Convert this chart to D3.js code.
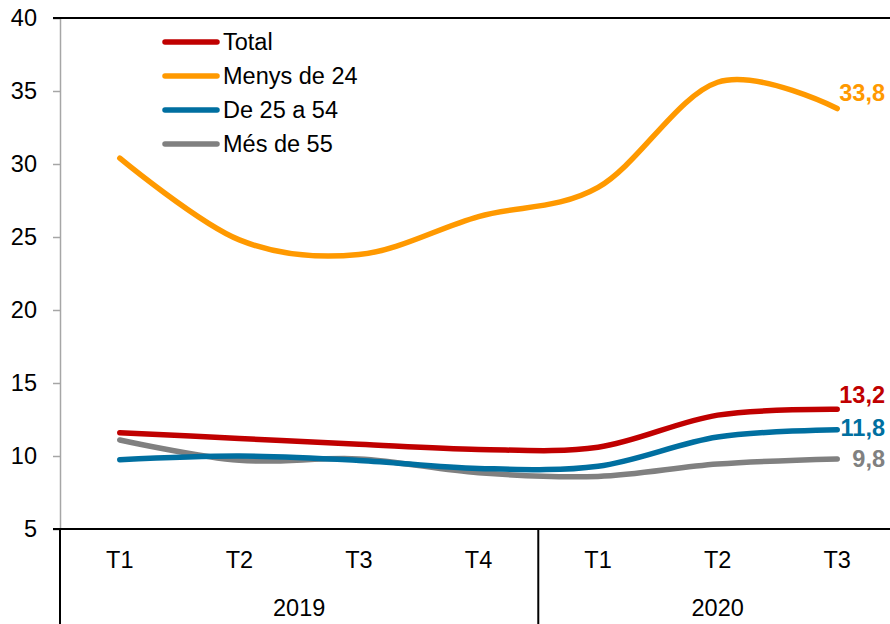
<!DOCTYPE html>
<html>
<head>
<meta charset="utf-8">
<script src="https://cdn.jsdelivr.net/npm/d3@7"></script>
<style>
  html, body { margin: 0; padding: 0; background: #fff; }
  svg { display: block; font-family: "Liberation Sans", Arial, sans-serif; }
</style>
</head>
<body>
<svg id="chart" width="890" height="624"></svg>
<script>
// ---- data ----
const quarters = ["T1", "T2", "T3", "T4", "T1", "T2", "T3"];
const years = ["2019", "2020"];
const yearSpans = [4, 3];
const yTicks = [5, 10, 15, 20, 25, 30, 35, 40];
const seriesNames = ["Total", "Menys de 24", "De 25 a 54", "Més de 55"];
const total   = [11.6, 11.2, 10.8, 10.45, 10.6, 12.8, 13.2];
const menys24 = [30.4, 24.8, 23.8, 26.4, 28.4, 35.6, 33.8];
const de25a54 = [9.75, 10.0, 9.7, 9.15, 9.3, 11.3, 11.8];
const mes55   = [11.1, 9.7, 9.8, 8.85, 8.6, 9.45, 9.8];
const endLabels = ["13,2", "33,8", "11,8", "9,8"];

// ---- styles ----
const colors = ["#C00000", "#FF9900", "#006FA0", "#808080"];
const labelDy = [-14.6, -16, -1.7, 0];
const allSeries = [total, menys24, de25a54, mes55];
const fs = 23.5;

const svg = d3.select("#chart");
const mLeft = 60, mRight = 897, mTop = 18, mBottom = 529;

const x = d3.scaleBand().domain(d3.range(quarters.length)).range([mLeft, mRight]);
const xc = i => x(i) + x.bandwidth() / 2;
const xEdge = i => i >= quarters.length ? mRight : x(i);
const y = d3.scaleLinear().domain([5, 40]).range([mBottom, mTop]);

// y axis
const yAxis = d3.axisLeft(y).tickValues(yTicks).tickSize(7).tickPadding(16).tickFormat(d3.format("d"));
const gy = svg.append("g").attr("transform", `translate(${mLeft},0)`).call(yAxis);
gy.select(".domain").attr("stroke", "#A6A6A6").attr("stroke-width", 1.5);
gy.selectAll(".tick line").attr("stroke", "#A6A6A6").attr("stroke-width", 1.5);
gy.selectAll(".tick text").attr("font-size", fs).attr("fill", "#000").attr("font-family", "Liberation Sans, Arial, sans-serif");

// top border
svg.append("line").attr("x1", mLeft - 7).attr("x2", 890).attr("y1", y(40)).attr("y2", y(40))
  .attr("stroke", "#000").attr("stroke-width", 2);
// bottom axis line
svg.append("line").attr("x1", mLeft - 7).attr("x2", 890).attr("y1", y(5)).attr("y2", y(5))
  .attr("stroke", "#000").attr("stroke-width", 2);

// category labels
svg.append("g").selectAll("text").data(quarters).join("text")
  .attr("x", (d, i) => xc(i)).attr("y", 560).attr("dy", "0.35em")
  .attr("text-anchor", "middle").attr("font-size", fs).text(d => d);

// year groups
let acc = 0;
const bounds = [0];
yearSpans.forEach(s => { acc += s; bounds.push(acc); });
svg.append("g").selectAll("line").data(bounds).join("line")
  .attr("x1", d => xEdge(d)).attr("x2", d => xEdge(d))
  .attr("y1", y(5)).attr("y2", 624)
  .attr("stroke", "#000").attr("stroke-width", 2);
svg.append("g").selectAll("text").data(years).join("text")
  .attr("x", (d, i) => (xEdge(bounds[i]) + xEdge(bounds[i + 1])) / 2)
  .attr("y", 608).attr("dy", "0.35em")
  .attr("text-anchor", "middle").attr("font-size", fs).text(d => d);

// lines
const line = d3.line().x((d, i) => xc(i)).y(d => y(d)).curve(d3.curveCardinal.tension(0));
const drawOrder = [3, 2, 0, 1];
drawOrder.forEach(k => {
  svg.append("path").datum(allSeries[k]).attr("d", line)
    .attr("fill", "none").attr("stroke", colors[k]).attr("stroke-width", 5.5)
    .attr("stroke-linecap", "round").attr("stroke-linejoin", "round");
});

// end labels
allSeries.forEach((s, k) => {
  svg.append("text").attr("x", 885).attr("y", y(s[s.length - 1]) + labelDy[k]).attr("dy", "0.35em")
    .attr("text-anchor", "end").attr("font-size", fs).attr("font-weight", "bold")
    .attr("fill", colors[k]).text(endLabels[k]);
});

// legend
const lg = svg.append("g");
seriesNames.forEach((n, k) => {
  const ly = 42 + k * 34;
  lg.append("line").attr("x1", 165).attr("x2", 217).attr("y1", ly).attr("y2", ly)
    .attr("stroke", colors[k]).attr("stroke-width", 5.5).attr("stroke-linecap", "round");
  lg.append("text").attr("x", 223).attr("y", ly).attr("dy", "0.35em")
    .attr("font-size", fs).attr("fill", "#000").text(n);
});
</script>
</body>
</html>
